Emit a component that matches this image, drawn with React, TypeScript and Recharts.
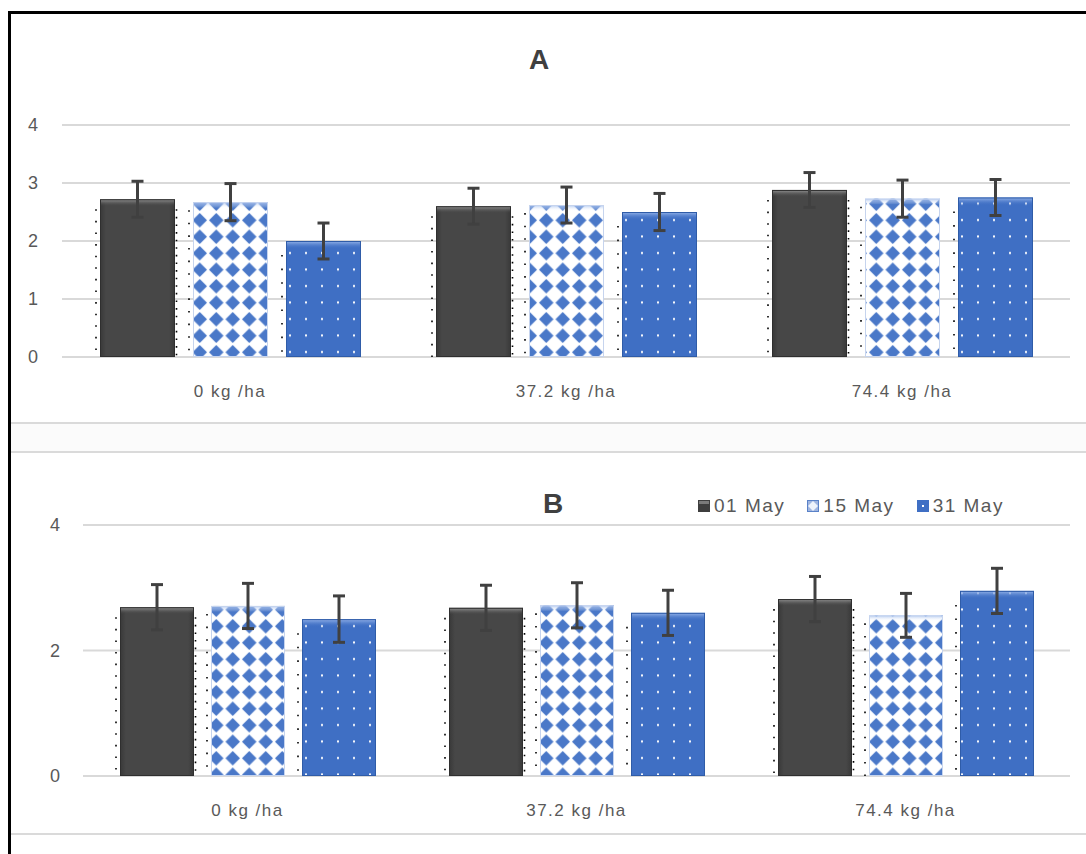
import React from "react";
import { BarChart, Bar, XAxis, YAxis, CartesianGrid, ErrorBar } from "recharts";

const categories = ["0 kg /ha", "37.2 kg /ha", "74.4 kg /ha"];
const seriesNames = ["01 May", "15 May", "31 May"];

// Panel A
const may01A = [2.72, 2.6, 2.88];
const may15A = [2.67, 2.62, 2.73];
const may31A = [2.0, 2.5, 2.75];
const may01AErr = [0.31, 0.31, 0.3];
const may15AErr = [0.32, 0.31, 0.32];
const may31AErr = [0.31, 0.32, 0.31];

// Panel B
const may01B = [2.69, 2.68, 2.82];
const may15B = [2.71, 2.72, 2.56];
const may31B = [2.5, 2.6, 2.95];
const may01BErr = [0.36, 0.36, 0.36];
const may15BErr = [0.36, 0.36, 0.35];
const may31BErr = [0.37, 0.36, 0.36];

const ticksA = [0, 1, 2, 3, 4];
const ticksB = [0, 2, 4];

const FONT = "'Liberation Sans', Arial, sans-serif";
const TEXT = "#595959";

const build = (a: number[], b: number[], c: number[], ae: number[], be: number[], ce: number[]) =>
  categories.map((cat, i) => ({ cat, s1: a[i], s1e: ae[i], s2: b[i], s2e: be[i], s3: c[i], s3e: ce[i] }));

const dataA = build(may01A, may15A, may31A, may01AErr, may15AErr, may31AErr);
const dataB = build(may01B, may15B, may31B, may01BErr, may15BErr, may31BErr);

const DarkBar = (p: any) => {
  const { x, y, width, height } = p;
  if (!(height > 0)) return <g />;
  return (
    <g>
      <rect x={x} y={y} width={width} height={height} fill="url(#gDarkBody)" />
      <rect x={x} y={y} width={width} height={Math.min(7, height)} fill="url(#gDarkTop)" />
      <rect x={x + 0.5} y={y + 0.5} width={width - 1} height={height - 1} fill="none" stroke="#2f2f2f" strokeWidth={1} />
      <line x1={x - 4} y1={y + 10} x2={x - 4} y2={y + height} stroke="#000" strokeWidth={1.6} strokeDasharray="1.6 10" />
      <line x1={x + width + 1.5} y1={y + 10} x2={x + width + 1.5} y2={y + height} stroke="#000" strokeWidth={1.6} strokeDasharray="1.6 6" />
    </g>
  );
};

const DiamondBar = (p: any) => {
  const { x, y, width, height } = p;
  if (!(height > 0)) return <g />;
  return (
    <g>
      <rect x={x} y={y} width={width} height={height} fill="url(#pDiamond)" />
      <rect x={x} y={y} width={width} height={Math.min(6, height)} fill="url(#gLightTop)" />
      <rect x={x + 0.5} y={y + 0.5} width={width - 1} height={height - 1} fill="none" stroke="#c6d4ee" strokeWidth={1} />
      <line x1={x - 4} y1={y + 8} x2={x - 4} y2={y + height} stroke="#000" strokeWidth={1.6} strokeDasharray="1.6 11" />
    </g>
  );
};

const DotBar = (p: any) => {
  const { x, y, width, height } = p;
  if (!(height > 0)) return <g />;
  return (
    <g>
      <rect x={x} y={y} width={width} height={height} fill="url(#pDots)" />
      <rect x={x} y={y} width={width} height={Math.min(8, height)} fill="url(#gBlueTop)" />
      <rect x={x + 0.5} y={y + 0.5} width={width - 1} height={height - 1} fill="none" stroke="#2f5ca8" strokeWidth={1} />
      <line x1={x - 4} y1={y + 14} x2={x - 4} y2={y + height} stroke="#000" strokeWidth={1.6} strokeDasharray="1.6 12" />
    </g>
  );
};

const XTick = (p: any) => (
  <text x={p.x} y={p.y} dy={34} textAnchor="middle" fill={TEXT} fontSize={17} fontFamily={FONT} letterSpacing={1.5}>
    {p.payload.value}
  </text>
);

const YTick = (p: any) => (
  <text x={p.x} y={p.y} dy={6} textAnchor="end" fill={TEXT} fontSize={18} fontFamily={FONT}>
    {p.payload.value}
  </text>
);

const errProps = { width: 6, strokeWidth: 3, stroke: "#404040", direction: "y" as const };

const Panel = ({ data, ticks, yWidth, top, height, marginTop, marginBottom, tickMargin, barSize, barGap }: any) => (
  <div style={{ position: "absolute", left: 10, top }}>
    <BarChart
      width={1076}
      height={height}
      data={data}
      margin={{ top: marginTop, right: 16, left: 0, bottom: marginBottom }}
      barGap={barGap}
      barSize={barSize}
    >
      <CartesianGrid horizontal vertical={false} stroke="#d9d9d9" strokeWidth={2} />
      <XAxis dataKey="cat" axisLine={false} tickLine={false} tickMargin={0} height={30} tick={<XTick />} interval={0} />
      <YAxis
        domain={[0, 4]}
        ticks={ticks}
        axisLine={false}
        tickLine={false}
        width={yWidth}
        tickMargin={tickMargin}
        tick={<YTick />}
        allowDataOverflow
      />
      <Bar dataKey="s1" name={seriesNames[0]} fill="#464646" shape={DarkBar} isAnimationActive={false}>
        <ErrorBar dataKey="s1e" {...errProps} />
      </Bar>
      <Bar dataKey="s2" name={seriesNames[1]} fill="#4a78c8" shape={DiamondBar} isAnimationActive={false}>
        <ErrorBar dataKey="s2e" {...errProps} />
      </Bar>
      <Bar dataKey="s3" name={seriesNames[2]} fill="#3f6fc4" shape={DotBar} isAnimationActive={false}>
        <ErrorBar dataKey="s3e" {...errProps} />
      </Bar>
    </BarChart>
  </div>
);

const LegendIcon = ({ i }: { i: number }) => (
  <svg width={12} height={12} style={{ display: "block" }}>
    {i === 0 && (
      <>
        <rect x={0} y={0} width={12} height={12} fill="#3e3e3e" />
        <rect x={1} y={1} width={10} height={3} fill="#7a7a7a" />
      </>
    )}
    {i === 1 && (
      <>
        <rect x={0} y={0} width={12} height={12} fill="#9fb5e0" />
        <polygon points="6,1 11,6 6,11 1,6" fill="#eef3fb" />
        <rect x={0.5} y={0.5} width={11} height={11} fill="none" stroke="#5a82c8" />
      </>
    )}
    {i === 2 && (
      <>
        <rect x={0} y={0} width={12} height={12} fill="#3f6fc4" />
        <rect x={5} y={5} width={2} height={2} fill="#fff" />
      </>
    )}
  </svg>
);

const Title = ({ text, cx, top }: any) => (
  <div
    style={{
      position: "absolute",
      left: cx - 50,
      width: 100,
      top,
      textAlign: "center",
      fontFamily: FONT,
      fontWeight: 700,
      fontSize: 28,
      lineHeight: "28px",
      color: "#404040",
    }}
  >
    {text}
  </div>
);

export default function App() {
  return (
    <div style={{ position: "absolute", left: 0, top: 0, width: 1086, height: 854, overflow: "hidden", background: "#fff" }}>
      <svg width={0} height={0} style={{ position: "absolute" }}>
        <defs>
          <pattern id="pDiamond" patternUnits="userSpaceOnUse" width={16.5} height={16.5}>
            <rect width={16.5} height={16.5} fill="#ffffff" />
            <polygon points="8.25,1 15.5,8.25 8.25,15.5 1,8.25" fill="#4a78c8" />
          </pattern>
          <pattern id="pDots" patternUnits="userSpaceOnUse" width={16} height={16.5}>
            <rect width={16} height={16.5} fill="#3f6fc4" />
            <rect x={7} y={7} width={2} height={2} fill="#ffffff" />
          </pattern>
          <linearGradient id="gDarkBody" x1="0" y1="0" x2="1" y2="0">
            <stop offset="0" stopColor="#383838" />
            <stop offset="0.08" stopColor="#474747" />
            <stop offset="0.92" stopColor="#474747" />
            <stop offset="1" stopColor="#383838" />
          </linearGradient>
          <linearGradient id="gDarkTop" x1="0" y1="0" x2="0" y2="1">
            <stop offset="0" stopColor="#9a9a9a" />
            <stop offset="1" stopColor="#474747" stopOpacity={0} />
          </linearGradient>
          <linearGradient id="gBlueTop" x1="0" y1="0" x2="0" y2="1">
            <stop offset="0" stopColor="#9ab8ec" />
            <stop offset="1" stopColor="#3f6fc4" stopOpacity={0} />
          </linearGradient>
          <linearGradient id="gLightTop" x1="0" y1="0" x2="0" y2="1">
            <stop offset="0" stopColor="#9ab8ec" stopOpacity={0.8} />
            <stop offset="1" stopColor="#ffffff" stopOpacity={0} />
          </linearGradient>
        </defs>
      </svg>

      {/* frame */}
      <div style={{ position: "absolute", left: 8, top: 11, width: 1078, height: 3, background: "#000" }} />
      <div style={{ position: "absolute", left: 8, top: 11, width: 3, height: 843, background: "#000" }} />
      <div style={{ position: "absolute", left: 11, top: 422, width: 1075, height: 2, background: "#dadada" }} />
      <div style={{ position: "absolute", left: 11, top: 424, width: 1075, height: 27, background: "#fbfbfb" }} />
      <div style={{ position: "absolute", left: 11, top: 451, width: 1075, height: 2, background: "#dadada" }} />
      <div style={{ position: "absolute", left: 11, top: 833, width: 1075, height: 2, background: "#dadada" }} />

      <Panel data={dataA} ticks={ticksA} yWidth={52} top={14} height={408} marginTop={111} marginBottom={35} tickMargin={18} barSize={75} barGap={18} />
      <Panel data={dataB} ticks={ticksB} yWidth={73} top={453} height={380} marginTop={72} marginBottom={27} tickMargin={17} barSize={74} barGap={17} />

      <Title text="A" cx={539} top={46} />
      <Title text="B" cx={553} top={490} />

      <div
        style={{
          position: "absolute",
          left: 698,
          top: 496,
          height: 20,
          display: "flex",
          alignItems: "center",
          fontFamily: FONT,
          fontSize: 19,
          letterSpacing: 1.5,
          color: TEXT,
        }}
      >
        {seriesNames.map((n, i) => (
          <div key={n} style={{ display: "flex", alignItems: "center", marginRight: 22 }}>
            <LegendIcon i={i} />
            <span style={{ marginLeft: 4, lineHeight: "20px" }}>{n}</span>
          </div>
        ))}
      </div>
    </div>
  );
}
